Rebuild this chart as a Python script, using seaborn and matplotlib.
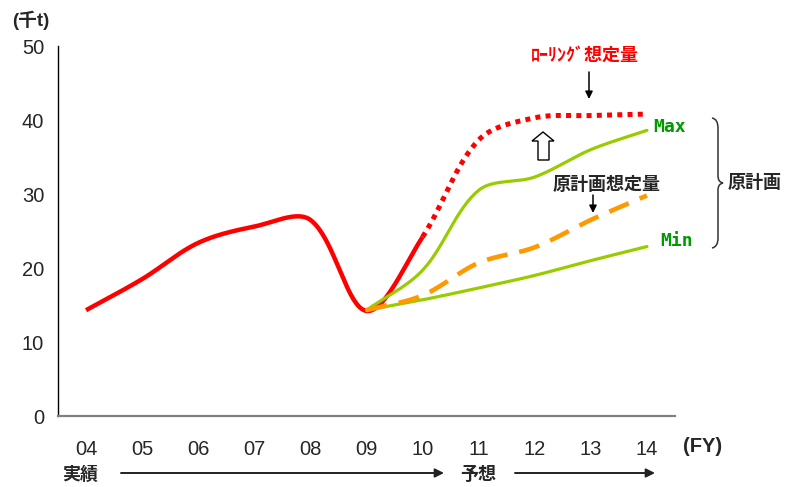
import numpy as np
import matplotlib
matplotlib.use("Agg")
import matplotlib.pyplot as plt
import seaborn as sns
from matplotlib.path import Path
from matplotlib.patches import PathPatch, Polygon

# ---------------- data ----------------
years = ["04", "05", "06", "07", "08", "09", "10", "11", "12", "13", "14"]
rolling = [14.3, 18.5, 23.4, 25.6, 26.5, 14.2, 24.2, 37.3, 40.3, 40.6, 40.8]
actual_last = "10"
plan_years = ["09", "10", "11", "12", "13", "14"]
plan_max = [14.3, 19.7, 30.5, 32.3, 36.0, 38.6]
plan_mid = [14.3, 16.3, 20.7, 22.8, 26.5, 29.8]
plan_min = [14.3, 15.7, 17.3, 19.0, 21.0, 22.9]
yticks = [0, 10, 20, 30, 40, 50]

W, H = 789, 487

sns.set_style("white")
plt.rcParams["font.family"] = ["Liberation Sans", "Noto Sans CJK JP", "DejaVu Sans"]
JP = ["Noto Sans CJK JP", "DejaVu Sans"]

SX, SY = 56.1, 7.4  # screen pixels per category / per unit (smoothing is done on screen)


def smooth(xs, ys, n=40):
    """Excel-like smoothed line: Bezier segments with chord-weighted tangents."""
    P = np.column_stack([np.asarray(xs, float) * SX, np.asarray(ys, float) * SY])
    m = len(P)
    out = [P[0]]
    t = np.linspace(0, 1, n + 1)[1:, None]

    def dist(a, b):
        return float(np.hypot(*(P[b] - P[a])))

    for i in range(m - 1):
        im, ip2 = max(i - 1, 0), min(i + 2, m - 1)
        p1, p2 = P[i], P[i + 1]
        d0, d1, d2 = dist(im, i), dist(i, i + 1), dist(i + 1, ip2)
        T1 = P[i + 1] - P[im]
        T2 = P[ip2] - P[i]
        c1 = p1 + T1 * (d1 / (d0 + d1)) / 3.0
        c2 = p2 - T2 * (d1 / (d1 + d2)) / 3.0
        seg = ((1 - t) ** 3) * p1 + 3 * ((1 - t) ** 2) * t * c1 + 3 * (1 - t) * t ** 2 * c2 + t ** 3 * p2
        out.extend(seg)
    out = np.array(out)
    return out[:, 0] / SX, out[:, 1] / SY


def px(x, y):
    return (x / W, 1 - y / H)


fig = plt.figure(figsize=(W / 100, H / 100), dpi=100)
ax = fig.add_axes([58 / W, 1 - 416 / H, (675 - 58) / W, 370 / H])

pos = {y: i for i, y in enumerate(years)}

# rolling line: actual (solid) then forecast (dotted)
rx, ry = smooth([pos[y] for y in years], rolling)
cut = pos[actual_last]
solid = rx <= cut + 1e-9
dotted = rx >= cut - 1e-9
sns.lineplot(x=rx[solid], y=ry[solid], ax=ax, color="#FF0000", lw=3.2,
             sort=False, estimator=None, solid_capstyle="butt")
sns.lineplot(x=rx[dotted], y=ry[dotted], ax=ax, color="#FF0000", lw=3.6,
             sort=False, estimator=None, linestyle=(0, (1, 1.05)),
             dash_capstyle="butt")

px_ = [pos[y] for y in plan_years]
gx, gy = smooth(px_, plan_max)
sns.lineplot(x=gx, y=gy, ax=ax, color="#99CC00", lw=2.3, sort=False, estimator=None)
mx, my = smooth(px_, plan_min)
sns.lineplot(x=mx, y=my, ax=ax, color="#99CC00", lw=2.3, sort=False, estimator=None)
ox, oy = smooth(px_, plan_mid)
sns.lineplot(x=ox, y=oy, ax=ax, color="#FF9900", lw=3.3, sort=False, estimator=None,
             linestyle=(0, (4.6, 2.6)), dash_capstyle="butt")

# axes styling
ax.set_xlim(-0.5, len(years) - 0.5)
ax.set_ylim(0, 50)
ax.set_xticks(np.arange(-0.5, len(years), 1.0))
ax.set_xticklabels([])
ax.set_xticks(range(len(years)), minor=True)
ax.set_xticklabels(years, minor=True)
ax.tick_params(axis="x", which="major", direction="in", length=5, width=1, color="black")
ax.tick_params(axis="x", which="minor", length=0, pad=17, labelsize=14.5)
ax.set_yticks(yticks)
ax.set_yticklabels([str(v) for v in yticks])
ax.tick_params(axis="y", direction="in", length=7, width=1, color="black",
               pad=10, labelsize=14.5)
for s in ["top", "right"]:
    ax.spines[s].set_visible(False)
ax.spines["left"].set_color("black")
ax.spines["left"].set_linewidth(1.0)
ax.spines["bottom"].set_color("#808080")
ax.spines["bottom"].set_linewidth(1.6)
ax.set_xlabel("")
ax.set_ylabel("")
ax.grid(False)

# texts
fig.text(*px(12, 20), "(千t)", fontsize=13.5, fontweight="bold", va="center", ha="left")
fig.text(*px(703, 446), "(FY)", fontsize=14.5, fontweight="bold", va="center", ha="center")
fig.text(*px(80, 474), "実績", family=JP, fontsize=13, fontweight="bold", va="center", ha="center")
fig.text(*px(478, 474), "予想", family=JP, fontsize=13, fontweight="bold", va="center", ha="center")
fig.text(*px(585, 55), "ﾛｰﾘﾝｸﾞ想定量", family=JP, fontsize=13, fontweight="bold",
         color="#FF0000", va="center", ha="center")
fig.text(*px(607, 184), "原計画想定量", family=JP, fontsize=13, fontweight="bold",
         va="center", ha="center")
fig.text(*px(755, 182), "原計画", family=JP, fontsize=13, fontweight="bold",
         va="center", ha="center")
fig.text(*px(653, 127), "Max", family=["DejaVu Sans Mono"], fontsize=13, fontweight="bold",
         color="#009900", va="center", ha="left")
fig.text(*px(660, 241), "Min", family=["DejaVu Sans Mono"], fontsize=13, fontweight="bold",
         color="#009900", va="center", ha="left")


def arrow(x0, y0, x1, y1, lw=1.2, ms=12, color="black"):
    ax.annotate("", xy=px(x1, y1), xytext=px(x0, y0), xycoords="figure fraction",
                textcoords="figure fraction",
                arrowprops=dict(arrowstyle="-|>", color=color, lw=lw, mutation_scale=ms,
                                shrinkA=0, shrinkB=0))


arrow(121, 473, 444, 473, lw=1.4, ms=13, color="#222222")
arrow(515, 473, 655, 473, lw=1.4, ms=13, color="#222222")
arrow(589, 72, 589, 99, lw=1.1, ms=11)
arrow(593, 195, 593, 213, lw=1.1, ms=11)

# hollow up arrow
up = [(543, 132), (554, 141), (549, 141), (549, 160), (538, 160), (538, 141), (532, 141)]
fig.add_artist(Polygon([px(*p) for p in up], closed=True, facecolor="white",
                       edgecolor="black", lw=1.0, transform=fig.transFigure))

# brace
bv = [(712, 118), (718, 119), (718, 128), (718, 176), (718, 182), (723, 183),
      (718, 184), (718, 190), (718, 238), (718, 247), (712, 248)]
codes = [Path.MOVETO, Path.CURVE3, Path.CURVE3, Path.LINETO, Path.CURVE3, Path.CURVE3,
         Path.CURVE3, Path.CURVE3, Path.LINETO, Path.CURVE3, Path.CURVE3]
fig.add_artist(PathPatch(Path([px(*p) for p in bv], codes), facecolor="none",
                         edgecolor="#333333", lw=1.1, transform=fig.transFigure))

fig.savefig("out.png", dpi=100)
